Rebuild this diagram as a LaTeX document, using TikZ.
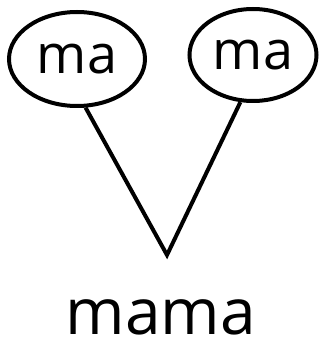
\documentclass[tikz,border=0pt]{standalone}
\usepackage{fontspec}
\setmainfont{Open Sans}
\usetikzlibrary{shapes.geometric}

\begin{document}
\begin{tikzpicture}[x=1pt,y=1pt]
    \tikzset{syllable/.style={ellipse,draw,line width=4pt,inner sep=0pt,minimum width=136pt,minimum height=94pt,font=\fontsize{54}{60}\selectfont},
        branch/.style={line width=4pt}}
    \useasboundingbox (0,0) rectangle (320,349);
    \node[syllable] (ma1) at (77,290) {ma};
    \node[syllable,minimum width=127pt,minimum height=92pt] (ma2) at (253,294) {ma};
    \coordinate (apex) at (167,94);
    \node[font=\fontsize{64}{70}\selectfont] (word) at (161,32) {mama};
    \draw[branch] (ma1.-80) -- (apex) -- (ma2.-105);
\end{tikzpicture}
\end{document}
